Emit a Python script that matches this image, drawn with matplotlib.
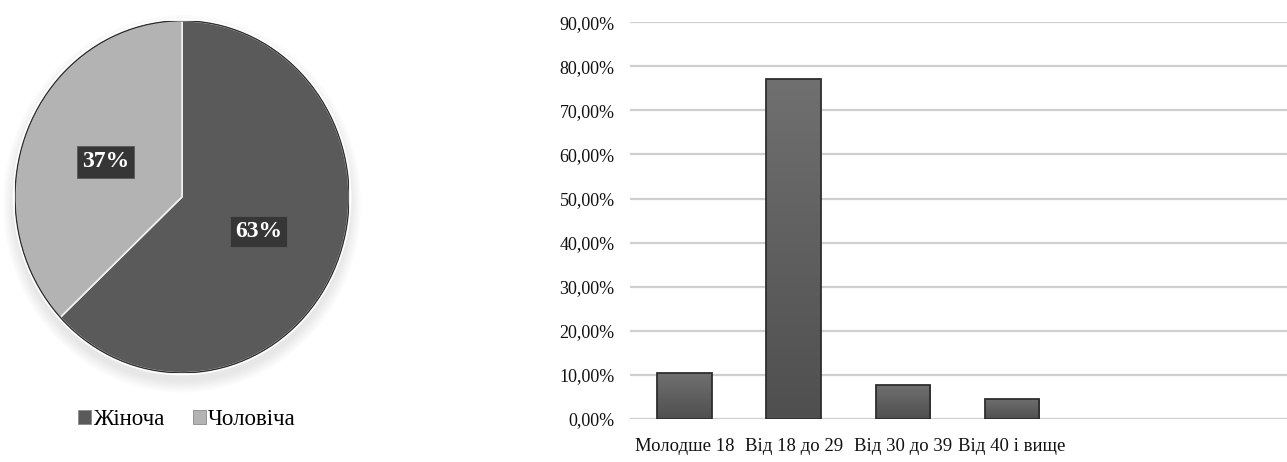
import numpy as np
import matplotlib.pyplot as plt
from matplotlib.patches import Ellipse, Patch
from matplotlib.colors import LinearSegmentedColormap

plt.rcParams['font.family'] = ['Liberation Serif', 'DejaVu Serif']

# --- data ---
gender_labels = ["Жіноча", "Чоловіча"]
gender_share = [63, 37]
gender_colors = ["#5a5a5a", "#b3b3b3"]

age_groups = ["Молодше 18", "Від 18 до 29", "Від 30 до 39", "Від 40 і вище"]
age_share = [0.104, 0.771, 0.078, 0.046]
y_ticks = np.arange(0, 0.91, 0.10)

fig = plt.figure(figsize=(12.87, 4.62), dpi=100)

# --- pie: gender ---
ax_pie = fig.add_axes([0.0117, 0.193, 0.2595, 0.762])
# soft shadow under the pie
for i in range(6):
    d = 0.012 * (i + 1)
    ax_pie.add_patch(Ellipse((0.0, -0.04), 2 + 2 * d, 2 + 2 * d,
                             facecolor="#000000", alpha=0.014, edgecolor="none",
                             zorder=0, clip_on=False))
wedges, texts, autotexts = ax_pie.pie(
    gender_share, colors=gender_colors, startangle=90, counterclock=False,
    autopct="%d%%", pctdistance=0.5, radius=1.0,
    wedgeprops=dict(edgecolor="#f2f2f2", linewidth=1.2),
)
ax_pie.add_patch(Ellipse((0, 0), 2.0, 2.0, facecolor="none", edgecolor="#2e2e2e",
                         linewidth=1.0, zorder=5))
ax_pie.add_patch(Ellipse((0, 0), 2.02, 2.02, facecolor="none", edgecolor="white",
                         linewidth=1.0, zorder=5, clip_on=False))
for t in autotexts:
    t.set_color("white")
    t.set_fontweight("bold")
    t.set_fontsize(17)
    t.set_zorder(6)
    t.set_bbox(dict(boxstyle="square,pad=0.22", facecolor="#363636",
                    edgecolor="#5a5a5a", linewidth=0.6))
ax_pie.set_aspect("auto")
ax_pie.set_xlim(-1.0, 1.0)
ax_pie.set_ylim(-1.0, 1.0)
ax_pie.axis("off")

handles = [Patch(facecolor=c, edgecolor="#8a8a8a", linewidth=0.6) for c in gender_colors]
fig.legend(handles, gender_labels, loc="center", bbox_to_anchor=(0.1455, 0.091),
           ncol=2, frameon=False, fontsize=16.5, handlelength=0.55, handleheight=0.55,
           handletextpad=0.1, columnspacing=1.25)

# --- bars: age groups ---
ax_bar = fig.add_axes([0.4895, 0.0931, 0.5105, 0.859])
x = np.arange(len(age_groups))
bars = ax_bar.bar(x, age_share, width=0.5, color="#575757", edgecolor="#2e2e2e",
                  linewidth=1.3, zorder=3)
# vertical shading inside each bar, lighter at the top
bar_cmap = LinearSegmentedColormap.from_list("bar_shade", ["#4f4f4f", "#707070"])
grad = np.linspace(0, 1, 256).reshape(-1, 1)
for b in bars:
    x0, w, h = b.get_x(), b.get_width(), b.get_height()
    im = ax_bar.imshow(grad, cmap=bar_cmap, aspect="auto", origin="lower",
                       extent=(x0, x0 + w, 0, h), zorder=3.5)
    im.set_clip_path(b)
    b.set_facecolor("none")
    b.set_zorder(4)
ax_bar.set_xlim(-0.5, 5.52)
ax_bar.set_ylim(0, 0.9)
ax_bar.set_yticks(y_ticks)
ax_bar.set_yticklabels([f"{v * 100:.2f}%".replace(".", ",") for v in y_ticks])
ax_bar.set_xticks(x)
ax_bar.set_xticklabels(age_groups)
ax_bar.tick_params(axis="both", length=0, labelsize=13, colors="#111111")
ax_bar.tick_params(axis="x", labelsize=13.5)
ax_bar.tick_params(axis="y", pad=11)
ax_bar.tick_params(axis="x", pad=14)
ax_bar.yaxis.grid(True, color="#cfcfcf", linewidth=1.6, zorder=0)
ax_bar.set_axisbelow(True)
for s in ax_bar.spines.values():
    s.set_visible(False)

plt.savefig("out.png", dpi=100)
